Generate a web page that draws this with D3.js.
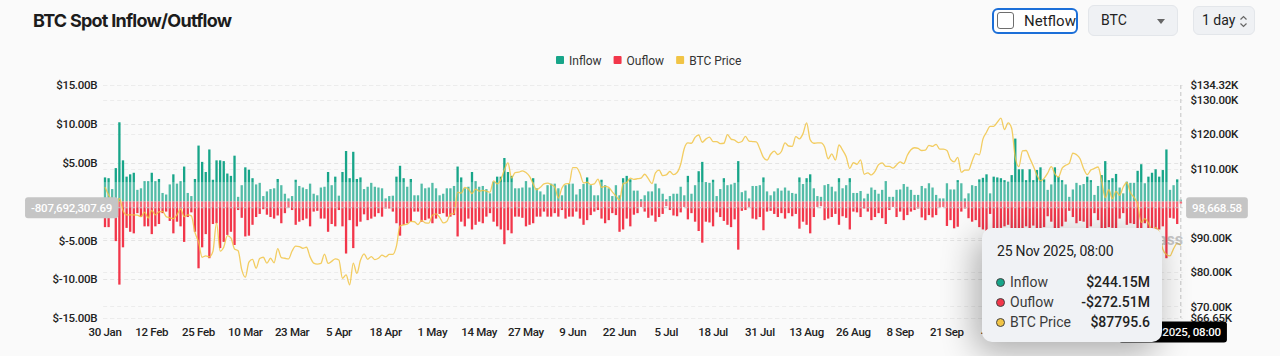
<!DOCTYPE html>
<html><head><meta charset="utf-8">
<script src="https://cdn.jsdelivr.net/npm/d3@7"></script>
<style>
html,body{margin:0;padding:0;background:#fafafa;width:1280px;height:356px;overflow:hidden;font-family:Roboto,"Noto Sans",sans-serif;}
#wrap{position:relative;width:1280px;height:356px;}
svg{position:absolute;left:0;top:0;}
.title{position:absolute;left:33px;top:10px;font:700 18px Inter,Roboto,sans-serif;color:#1c1c1c;letter-spacing:-0.75px;}
.netflow{position:absolute;left:992px;top:8px;width:86px;height:26px;box-sizing:border-box;border:2px solid #1c6fd8;border-radius:6px;background:#fff;}
.netflow .box{position:absolute;left:3px;top:2px;width:17px;height:17px;box-sizing:border-box;border:1.5px solid #6e6e6e;border-radius:3px;background:#fff;}
.netflow .lbl{position:absolute;left:30px;top:2px;font:15px Roboto,sans-serif;color:#1f1f1f;}
.sel{position:absolute;box-sizing:border-box;background:#eff1f4;border:1px solid #e3e6ea;border-radius:6px;font:14px Roboto,sans-serif;color:#222;}
.tip{position:absolute;left:982px;top:228px;width:180px;height:114px;box-sizing:border-box;background:#f0f2f5;border-radius:10px;box-shadow:-6px 10px 34px rgba(0,0,0,0.32);font:14px Roboto,sans-serif;color:#222;}
.tip .hd{position:absolute;left:15px;top:15px;letter-spacing:-0.2px;}
.tip .row{position:absolute;left:14px;right:12px;height:18px;}
.tip .dot{position:absolute;left:0;top:4px;width:9px;height:9px;border-radius:50%;box-sizing:border-box;border:1.2px solid #444;}
.tip .nm{position:absolute;left:14px;top:0;color:#3a3a3a;}
.tip .vl{position:absolute;right:0;top:0;font-weight:500;}
</style></head>
<body><div id="wrap"></div>
<script>
// ---------- data ----------
const dates = d3.timeDay.range(new Date(2025,0,30), new Date(2025,10,26)); // 30 Jan .. 25 Nov 2025

// inflow, $B per day
const inflow = [
3.1,3.0,1.6,4.3,10.2,5.3,3.2,3.5,3.7,1.5,1.7,2.6,2.6,3.7,2.6,2.9,1.1,0.9,2.2,3.5,
2.3,2.6,4.5,1.1,0.7,2.9,7.2,5.1,3.8,6.7,2.8,5.3,5.3,5.2,3.6,3.3,5.9,0.6,2.1,4.4,
4.1,3.0,2.2,2.4,0.7,1.3,1.6,1.7,2.9,2.1,1.0,0.4,0.7,2.8,2.0,1.8,1.6,2.3,1.0,0.8,
1.8,1.9,3.8,
2.1,3.2,0.75,3.8,6.5,3.0,6.4,2.9,3.1,1.6,
1.9,2.4,1.9,1.8,1.7,0.4,0.7,0.75,3.2,4.6,
3.0,1.9,2.9,0.8,0.8,2.3,1.7,1.8,2.4,1.7,
0.8,1.0,1.7,1.7,2.0,4.5,3.1,1.7,1.9,3.8,
2.6,1.9,2.0,1.6,1.05,2.55,3.2,3.2,5.6,3.8,
3.3,1.7,1.7,1.8,2.6,1.8,3.0,1.7,1.3,0.9,
2.1,2.3,2.3,1.7,0.8,2.1,2.3,2.3,0.9,1.6,
2.25,3.1,2.1,0.8,0.8,2.8,2.1,1.7,0.7,2.1,
0.8,3.0,3.3,2.85,
1.4,1.4,0.3,0.8,1.3,1.3,2.3,1.7,1.0,0.3,
0.7,1.0,1.0,1.9,0.8,3.3,1.0,2.1,3.9,5.1,
2.5,2.4,2.8,0.7,1.6,3.0,2.1,2.2,2.4,5.2,
1.2,1.4,0.4,2.0,2.0,2.1,3.1,1.3,0.8,1.3,
1.7,1.4,1.8,1.4,1.1,1.0,3.1,2.25,3.0,3.5,
1.7,0.7,0.6,2.1,2.25,1.9,1.3,3.0,1.7,2.1,
3.0,1.1,1.1,
1.35,0.4,1.0,1.8,1.5,1.0,1.5,2.6,0.6,0.6,
1.5,1.55,2.25,1.9,1.5,0.85,0.85,2.0,1.7,2.35,
1.8,0.85,0.4,0.4,2.35,1.55,1.55,2.75,2.35,0.4,
1.05,2.1,2.0,2.85,3.05,3.5,1.05,3.2,3.1,3.0,
2.75,2.55,3.4,8.1,4.15,4.15,2.75,4.15,2.75,4.05,
4.4,2.85,1.5,2.2,4.4,3.2,2.75,2.2,0.6,1.55,
2.4,2.1,2.25,3.2,2.75,0.85,2.0,3.4,5.2,2.75,
3.0,3.55,1.8,1.05,2.55,2.4,2.4,3.95,4.8,2.35,
3.2,3.7,4.15,3.2,4.05,6.7,1.5,2.1,2.85,
0.24415];

// outflow, $B per day
const outflow = [
-3.3,-3.3,-1.1,-5.1,-10.7,-5.9,-3.4,-3.9,-4.1,-1.5,
-2.0,-3.2,-3.2,-4.2,-3.2,-2.9,-1.5,-1.3,-2.5,-4.1,
-2.6,-3.2,-5.2,-2.0,-1.4,-3.9,-8.6,-5.9,-4.2,-7.3,
-2.9,-2.8,-6.0,-5.2,-4.3,-3.9,-5.6,-1.1,-2.1,-4.5,
-4.4,-3.0,-2.0,-1.6,-1.0,-1.7,-2.0,-2.2,-1.8,-2.8,
-1.5,-0.8,-1.1,-3.0,-2.6,-2.4,-2.2,-3.2,-1.3,-1.2,
-2.2,-2.2,-3.9,
-2.9,-3.2,-1.1,-3.2,-6.7,-2.4,-6.0,-3.2,-2.6,-1.65,
-2.4,-2.2,-1.95,-1.5,-1.95,-0.9,-0.9,-1.3,-2.8,-4.4,
-3.0,-2.8,-2.6,-1.3,-1.3,-2.6,-2.4,-2.2,-2.8,-2.2,
-1.6,-1.5,-1.95,-1.95,-1.75,-4.5,-2.6,-3.2,-2.2,-3.6,
-3.0,-2.6,-2.8,-1.95,-1.5,-2.6,-3.2,-3.6,-5.5,-3.7,
-4.1,-1.95,-1.95,-2.1,-3.2,-3.0,-2.8,-1.95,-1.95,-1.3,
-1.95,-1.95,-1.5,-1.95,-1.1,-2.2,-1.95,-1.95,-1.3,-2.2,
-3.0,-2.4,-1.75,-1.3,-1.1,-2.2,-2.8,-2.4,-1.5,-1.75,
-3.9,-3.6,-2.2,-3.2,
-1.7,-1.5,-0.7,-1.3,-2.1,-1.8,-2.6,-2.0,-1.6,-0.6,
-1.1,-1.8,-1.9,-1.4,-0.7,-2.3,-1.5,-2.6,-3.8,-5.3,
-2.6,-2.7,-3.2,-1.4,-2.0,-2.5,-3.0,-3.3,-2.3,-6.2,
-1.2,-1.1,-0.7,-2.2,-2.3,-2.0,-3.7,-1.3,-1.2,-1.6,
-2.0,-1.5,-2.2,-1.5,-1.9,-1.6,-3.5,-2.6,-3.0,-4.1,
-2.0,-0.7,-0.6,-2.4,-2.2,-2.0,-1.6,-3.0,-1.9,-2.1,
-3.6,-1.3,-1.4,
-2.0,-0.9,-1.3,-2.4,-2.0,-1.5,-2.15,-2.9,-1.1,-0.7,
-2.0,-1.3,-2.4,-1.75,-1.3,-1.1,-0.9,-2.05,-2.4,-1.75,
-2.05,-1.75,-0.75,-0.7,-3.15,-2.4,-3.45,-3.25,-1.3,-0.9,
-2.15,-2.6,-2.4,-3.3,-3.6,-3.8,-1.6,-3.6,-3.5,-3.4,
-3.2,-3.0,-3.9,-8.3,-4.6,-4.5,-3.2,-4.4,-3.1,-4.3,
-4.7,-3.3,-1.9,-2.6,-4.8,-3.6,-3.2,-2.6,-1.2,-2.0,
-2.8,-2.5,-2.6,-3.7,-3.2,-1.5,-2.4,-3.8,-5.6,-3.3,
-3.4,-3.9,-2.2,-1.5,-3.0,-2.8,-2.9,-4.4,-5.2,-2.8,
-3.6,-4.1,-4.6,-3.6,-3.2,-7.3,-2.1,-2.2,-2.9,
-0.27251];

// BTC price, $K
const price = [
104.7,102.4,
100.6,97.7,101.4,97.9,96.6,96.6,96.6,96.5,96.1,97.4,95.7,97.9,96.6,97.5,97.6,96.1,95.8,95.5,96.6,98.3,96.1,96.6,96.3,91.5,88.7,84.3,84.7,84.4,
86.0,94.3,86.1,87.2,90.6,89.9,86.7,86.2,80.7,78.5,82.9,83.7,81.1,83.9,84.3,82.6,84.0,82.7,86.8,84.2,84.0,83.8,86.1,87.5,87.4,86.9,87.2,84.4,82.6,82.3,82.5,
85.2,82.5,83.1,83.8,83.5,78.2,79.2,76.3,82.6,79.6,83.4,85.3,83.7,84.5,83.6,84.0,84.9,84.4,85.1,85.1,87.5,93.4,93.7,93.9,94.7,94.6,93.8,95.0,94.3,94.2,
96.5,96.9,95.9,94.3,94.7,96.8,97.0,103.2,102.9,104.6,104.1,102.8,104.1,103.5,103.7,103.5,103.2,106.5,105.6,106.8,109.7,111.7,107.3,108.9,109.0,109.4,108.9,107.8,105.6,103.9,104.6,
105.6,105.8,105.4,104.7,101.5,104.4,105.6,105.7,110.3,110.3,108.7,105.9,106.1,105.4,105.6,107.0,104.6,104.9,104.6,103.3,102.1,100.9,105.6,106.0,107.3,106.9,107.1,107.3,108.4,107.1,
105.7,108.8,109.6,108.0,108.2,109.2,108.3,108.9,111.3,115.9,117.5,117.4,119.1,119.8,117.7,118.6,119.2,117.9,117.9,117.3,117.4,119.9,118.6,118.3,117.6,117.9,119.4,118.0,117.9,117.8,115.8,
113.3,112.5,114.2,115.1,114.1,115.0,117.5,116.6,116.5,119.3,118.7,120.2,123.3,118.4,117.4,117.5,117.5,116.3,112.9,114.3,112.5,116.9,115.4,113.5,110.1,111.8,111.3,112.6,108.4,108.8,108.2,
109.2,111.2,111.7,110.7,110.7,110.2,111.1,112.0,111.5,113.9,115.5,116.1,115.9,115.3,115.4,116.8,116.5,117.1,115.7,115.7,115.3,112.7,112.0,113.3,109.0,109.6,109.6,112.2,114.4,114.0,
118.6,120.6,122.3,122.3,123.5,124.7,121.4,123.3,121.7,113.2,110.6,115.2,115.3,113.1,110.8,108.2,106.5,107.2,108.7,110.6,108.5,107.6,110.1,111.0,111.6,114.5,114.1,112.9,110.0,108.3,109.6,
110.1,110.5,106.5,101.6,103.9,101.3,103.4,102.3,104.7,106.0,103.0,101.7,99.7,94.4,95.5,94.2,92.2,92.9,91.5,86.6,85.1,84.7,86.8,88.3,87.7956];

const leftTicks = [-15,-10,-5,0,5,10,15];
const rightTicks = [66.65,70,80,90,100,110,120,130,134.32];
const xLabelEvery = 13;
const legendItems = [["Inflow","#17a589"],["Ouflow","#f2364a"],["BTC Price","#f1c445"]];
const pointerPrice = 98.66858;
const pointerLeftText = "-807,692,307.69";
const pointerRightText = "98,668.58";
const hoverIndex = dates.length - 1;

// ---------- layout ----------
const W = 1280, H = 356;
const plot = {left:103.2, right:1182.6, top:85, bottom:318};
const GREEN = "#17a589", RED = "#f2364a", GOLD = "#f1c445";
const tipBox = {x0:982, x1:1162, y0:228, y1:342};
const AXFONT = "Roboto, sans-serif";

const wrap = d3.select("#wrap");
wrap.append("div").attr("class","title").text("BTC Spot Inflow/Outflow");
const nf = wrap.append("div").attr("class","netflow");
nf.append("div").attr("class","box");
nf.append("div").attr("class","lbl").text("Netflow");
wrap.append("div").attr("class","sel").style("left","1088px").style("top","5px").style("width","90px").style("height","31px")
  .html('<span style="position:absolute;left:12px;top:6px">BTC</span><svg width="10" height="6" style="left:68px;top:13px"><path d="M0,0L8,0L4,5Z" fill="#666"/></svg>');
wrap.append("div").attr("class","sel").style("left","1193px").style("top","6px").style("width","62px").style("height","29px")
  .html('<span style="position:absolute;left:8px;top:5px">1 day</span><svg width="10" height="16" style="left:45px;top:7px"><path d="M1.5,5.5L4.5,2.5L7.5,5.5M1.5,9.5L4.5,12.5L7.5,9.5" stroke="#666" stroke-width="1.2" fill="none"/></svg>');

const svg = wrap.append("svg").attr("width",W).attr("height",H).style("position","absolute");

const x = d3.scaleBand().domain(d3.range(dates.length)).range([plot.left, plot.right]).paddingInner(0.36).paddingOuter(0.18);
const yL = d3.scaleLinear().domain([-15,15]).range([plot.bottom, plot.top]);
const yR = d3.scaleLinear().domain([66.65,134.32]).range([plot.bottom, plot.top]);
const cx = i => x(i) + x.bandwidth()/2;
const py = yR(pointerPrice);

// legend
const lg = svg.append("g").attr("font-size",12).attr("fill","#333").attr("font-family",AXFONT);
let lx = 556;
legendItems.forEach(([name,col]) => {
  lg.append("rect").attr("x",lx).attr("y",56).attr("width",8).attr("height",8).attr("rx",1).attr("fill",col);
  const t = lg.append("text").attr("x",lx+13).attr("y",64.5).text(name);
  lx += 13 + t.node().getComputedTextLength() + 12;
});

// grid
const grid = svg.append("g").attr("stroke","#e4e4e4").attr("stroke-dasharray","4,3").attr("stroke-width",1);
leftTicks.forEach(v => grid.append("line").attr("x1",plot.left).attr("x2",plot.right).attr("y1",Math.round(yL(v))+0.5).attr("y2",Math.round(yL(v))+0.5));
rightTicks.forEach(v => grid.append("line").attr("x1",plot.left).attr("x2",plot.right).attr("y1",Math.round(yR(v))+0.5).attr("y2",Math.round(yR(v))+0.5).attr("stroke","#ececec"));

// axes labels (labels lying fully under the pointer pills / tooltip are not drawn)
const hideL = v => Math.abs(yL(v) - py) < 10;
const hideR = v => Math.abs(yR(v) - py) < 10;
const axL = svg.append("g").attr("transform",`translate(${plot.left-6},0)`)
  .call(d3.axisLeft(yL).tickValues(leftTicks.filter(v=>!hideL(v))).tickSize(0).tickPadding(0).tickFormat(v => v===0 ? "$0" : "$"+v.toFixed(2)+"B"));
const axR = svg.append("g").attr("transform",`translate(${plot.right+8},0)`)
  .call(d3.axisRight(yR).tickValues(rightTicks.filter(v=>!hideR(v))).tickSize(0).tickPadding(0).tickFormat(v => "$"+v.toFixed(2)+"K"));
const xTickIdx = d3.range(0,dates.length,xLabelEvery).filter(i => cx(i) - 12 < tipBox.x0);
const axX = svg.append("g").attr("transform",`translate(0,${plot.bottom+8})`)
  .call(d3.axisBottom(x).tickValues(xTickIdx).tickSize(0).tickPadding(0).tickFormat(i => d3.timeFormat("%-d %b")(dates[i])));
[axL,axR,axX].forEach(a => {
  a.select(".domain").remove();
  a.selectAll("text").attr("font-family",AXFONT).attr("font-size",11.5).attr("letter-spacing","-0.3px").attr("fill","#222").attr("font-weight",500);
});
axX.selectAll("text").attr("dy","0.9em");

// bars
const bars = svg.append("g");
bars.selectAll("rect.in").data(inflow).join("rect").attr("class","in")
  .attr("x",(d,i)=>x(i)).attr("width",x.bandwidth())
  .attr("y",d=>yL(d)).attr("height",d=>yL(0)-yL(d)).attr("fill",GREEN);
bars.selectAll("rect.out").data(outflow).join("rect").attr("class","out")
  .attr("x",(d,i)=>x(i)).attr("width",x.bandwidth())
  .attr("y",yL(0)).attr("height",d=>yL(d)-yL(0)).attr("fill",RED);

// light band near zero
svg.append("rect").attr("x",plot.left).attr("width",plot.right-plot.left).attr("y",yL(2.5)).attr("height",py-yL(2.5)).attr("fill","#fff").attr("opacity",0.26);

// price line
svg.append("path").datum(price)
  .attr("d", d3.line().x((d,i)=>cx(i)).y(d=>yR(d)).curve(d3.curveMonotoneX))
  .attr("fill","none").attr("stroke",GOLD).attr("stroke-width",1.3).attr("opacity",0.85);

// watermark
svg.append("text").attr("x",1183).attr("y",245).attr("text-anchor","end").attr("font-size",16).attr("font-weight",700)
  .attr("fill","#9a9a9a").attr("opacity",0.55).attr("font-family",AXFONT).text("CoinGlass");

// crosshair
const hx = cx(hoverIndex);
svg.append("line").attr("x1",hx).attr("x2",hx).attr("y1",plot.top).attr("y2",plot.bottom).attr("stroke","#c4c4c4").attr("stroke-dasharray","4,3");
svg.append("line").attr("x1",plot.left).attr("x2",plot.right).attr("y1",py).attr("y2",py).attr("stroke","#c4c4c4").attr("stroke-dasharray","4,3");

function pill(text, cxp, cyp, anchor, bg, fg){
  const g = svg.append("g");
  const t = g.append("text").attr("font-size",11.5).attr("letter-spacing","-0.2px").attr("font-family",AXFONT).attr("font-weight",500).attr("fill",fg).text(text);
  const w = t.node().getComputedTextLength()+12;
  let x0 = anchor==="end" ? cxp - w : anchor==="start" ? cxp : cxp - w/2;
  g.insert("rect","text").attr("x",x0).attr("y",cyp-10.5).attr("width",w).attr("height",21).attr("rx",3).attr("fill",bg);
  t.attr("x",x0+6).attr("y",cyp+4.2);
}
pill(pointerLeftText, plot.left+15, py, "end", "#c5c5c5", "#fff");
pill(pointerRightText, plot.right+3.5, py, "start", "#c5c5c5", "#fff");
pill(d3.timeFormat("%-d %b %Y, %H:%M")(new Date(2025,10,25,8)), hx-8, plot.bottom+14, "mid", "#000", "#fff");

// tooltip
const fmtM = v => (v<0?"-$":"$") + Math.abs(v*1000).toFixed(2) + "M";
const tip = wrap.append("div").attr("class","tip");
tip.append("div").attr("class","hd").text(d3.timeFormat("%-d %b %Y, %H:%M")(new Date(2025,10,25,8)));
const rows = [["Inflow",GREEN,fmtM(inflow[hoverIndex])],["Ouflow",RED,fmtM(outflow[hoverIndex])],["BTC Price",GOLD,"$"+(price[hoverIndex]*1000).toFixed(1)]];
rows.forEach((r,k) => {
  const row = tip.append("div").attr("class","row").style("top",(46+k*20)+"px");
  row.append("div").attr("class","dot").style("background",r[1]);
  row.append("div").attr("class","nm").text(r[0]);
  row.append("div").attr("class","vl").text(r[2]);
});
</script>
</body></html>
